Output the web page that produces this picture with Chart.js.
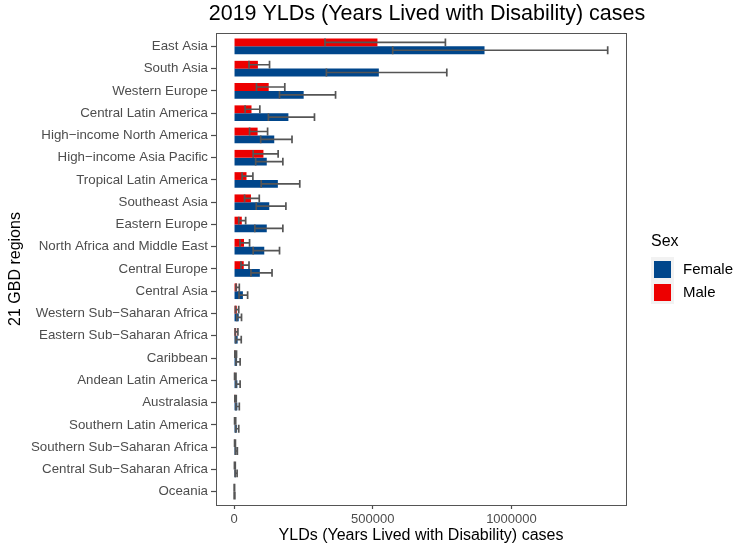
<!DOCTYPE html>
<html>
<head>
<meta charset="utf-8">
<script src="https://cdn.jsdelivr.net/npm/chart.js@4.4.1/dist/chart.umd.min.js"></script>
<style>
  html, body { margin: 0; padding: 0; background: #fff; }
  #wrap { width: 735px; height: 546px; }
</style>
</head>
<body>
<div id="wrap"><canvas id="chart" width="735" height="546"></canvas></div>
<script>
// regions, top to bottom
const regions = [
    'East Asia', 'South Asia', 'Western Europe', 'Central Latin America',
    'High\u2212income North America', 'High\u2212income Asia Pacific', 'Tropical Latin America',
    'Southeast Asia', 'Eastern Europe', 'North Africa and Middle East', 'Central Europe',
    'Central Asia', 'Western Sub\u2212Saharan Africa', 'Eastern Sub\u2212Saharan Africa', 'Caribbean',
    'Andean Latin America', 'Australasia', 'Southern Latin America',
    'Southern Sub\u2212Saharan Africa', 'Central Sub\u2212Saharan Africa', 'Oceania'
];

const maleVal  = [517000, 86000, 125000, 63000, 85000, 106000, 45000, 61000, 28000, 36000, 35000,
                  11000, 10000, 8000, 5000, 4000, 5000, 3000, 3000, 2500, 1000];
const maleLow  = [328000, 54000, 81000, 40000, 56000, 69000, 29000, 38000, 17000, 21500, 25000,
                  7000, 5000, 4000, 3000, 2000, 3000, 2000, 2000, 1500, 500];
const maleHigh = [762000, 128000, 183000, 93000, 121000, 159000, 68000, 91000, 42000, 56000, 54000,
                  19000, 17000, 14000, 9000, 7000, 8000, 6000, 5000, 4500, 2000];

const femaleVal  = [903000, 522000, 251000, 196000, 145000, 118000, 158000, 127000, 118000, 109000, 93000,
                    32000, 17000, 13000, 11000, 12000, 12000, 10000, 8000, 7000, 1500];
const femaleLow  = [572000, 333000, 164000, 124000, 96000, 78000, 98000, 80000, 75000, 69000, 61000,
                    18000, 10000, 6000, 7000, 7000, 7000, 6000, 5000, 4000, 500];
const femaleHigh = [1347000, 767000, 366000, 290000, 209000, 176000, 237000, 187000, 176000, 164000, 137000,
                    49000, 27000, 26000, 22000, 22000, 19000, 17000, 12000, 11000, 3000];

const xTicks = [0, 500000, 1000000];

const TITLE = '2019 YLDs (Years Lived with Disability) cases';
const FEMALE = '#00468B';
const MALE = '#ED0000';
const AXIS_GREY = '#4d4d4d';
const FONT = "'Liberation Sans', Arial, sans-serif";

const toPoints = vals => vals.map((v, i) => ({ x: v, y: i }));

// ggplot-ish panel border, error bars, title and legend
const decorations = {
    id: 'decorations',
    afterDatasetsDraw(chart) {
        const ctx = chart.ctx;
        const xs = chart.scales.x;
        ctx.save();
        ctx.strokeStyle = '#555';
        ctx.lineWidth = 1.7;
        chart.data.datasets.forEach((ds, i) => {
            const meta = chart.getDatasetMeta(i);
            meta.data.forEach((bar, j) => {
                const { y, height } = bar.getProps(['y', 'height'], true);
                const lo = xs.getPixelForValue(ds.errLow[j]);
                const hi = xs.getPixelForValue(ds.errHigh[j]);
                const h = height / 2;
                ctx.beginPath();
                ctx.moveTo(lo, y); ctx.lineTo(hi, y);
                ctx.moveTo(lo, y - h); ctx.lineTo(lo, y + h);
                ctx.moveTo(hi, y - h); ctx.lineTo(hi, y + h);
                ctx.stroke();
            });
        });
        ctx.restore();
    },
    afterDraw(chart) {
        const ctx = chart.ctx;
        const a = chart.chartArea;
        ctx.save();
        ctx.strokeStyle = '#555';
        ctx.lineWidth = 1;
        ctx.strokeRect(Math.round(a.left) + 0.5, Math.round(a.top) + 0.5,
                       Math.round(a.right - a.left), Math.round(a.bottom - a.top));

        // title, centred over the panel
        ctx.fillStyle = '#000';
        ctx.textAlign = 'center';
        ctx.textBaseline = 'middle';
        ctx.font = '21.5px ' + FONT;
        ctx.fillText(TITLE, (a.left + a.right) / 2 + 6, 14);

        // legend
        ctx.textAlign = 'left';
        ctx.font = '16px ' + FONT;
        ctx.fillText('Sex', 651, 242);
        ctx.fillStyle = '#f2f2f2';
        ctx.fillRect(651, 257, 23, 47);
        const keys = [['Female', FEMALE, 261], ['Male', MALE, 284]];
        ctx.font = '15px ' + FONT;
        keys.forEach(([label, col, y]) => {
            ctx.fillStyle = col;
            ctx.fillRect(654, y, 17, 17);
            ctx.fillStyle = '#000';
            ctx.fillText(label, 683, y + 9);
        });
        ctx.restore();
    }
};

new Chart(document.getElementById('chart').getContext('2d'), {
    type: 'bar',
    data: {
        datasets: [
            {
                label: 'Male',
                data: toPoints(maleVal),
                errLow: maleLow,
                errHigh: maleHigh,
                backgroundColor: MALE,
                borderWidth: 0
            },
            {
                label: 'Female',
                data: toPoints(femaleVal),
                errLow: femaleLow,
                errHigh: femaleHigh,
                backgroundColor: FEMALE,
                borderWidth: 0
            }
        ]
    },
    options: {
        indexAxis: 'y',
        responsive: false,
        animation: false,
        categoryPercentage: 0.7,
        barPercentage: 1.0,
        layout: { padding: { left: 0, right: 109, top: 33, bottom: 0 } },
        plugins: {
            legend: { display: false },
            tooltip: { enabled: false },
            title: { display: false }
        },
        scales: {
            x: {
                type: 'linear',
                min: -65000,
                max: 1413000,
                afterBuildTicks: scale => { scale.ticks = xTicks.map(v => ({ value: v })); },
                afterFit: scale => { scale.height = 41; },
                border: { display: false },
                grid: { drawOnChartArea: false, drawTicks: true, tickLength: 4, tickColor: AXIS_GREY, tickWidth: 1.2 },
                ticks: {
                    color: AXIS_GREY,
                    padding: 3,
                    maxRotation: 0,
                    font: { family: FONT, size: 13 },
                    callback: v => String(v)
                },
                title: {
                    display: true,
                    text: 'YLDs (Years Lived with Disability) cases',
                    color: '#000',
                    font: { family: FONT, size: 16 },
                    padding: { top: 0, bottom: 1 }
                }
            },
            y: {
                type: 'linear',
                reverse: true,
                offset: false,
                min: -0.6,
                max: 20.6,
                afterBuildTicks: scale => { scale.ticks = regions.map((r, i) => ({ value: i })); },
                afterFit: scale => { scale.width = 216; },
                border: { display: false },
                grid: { offset: false, drawOnChartArea: false, drawTicks: true, tickLength: 5, tickColor: AXIS_GREY, tickWidth: 1.2 },
                ticks: {
                    color: AXIS_GREY,
                    padding: 3,
                    autoSkip: false,
                    font: { family: FONT, size: 13.3 },
                    callback: v => regions[v]
                },
                title: {
                    display: true,
                    text: '21 GBD regions',
                    color: '#000',
                    font: { family: FONT, size: 16 },
                    padding: { top: 6, bottom: 0 }
                }
            }
        }
    },
    plugins: [decorations]
});
</script>
</body>
</html>
